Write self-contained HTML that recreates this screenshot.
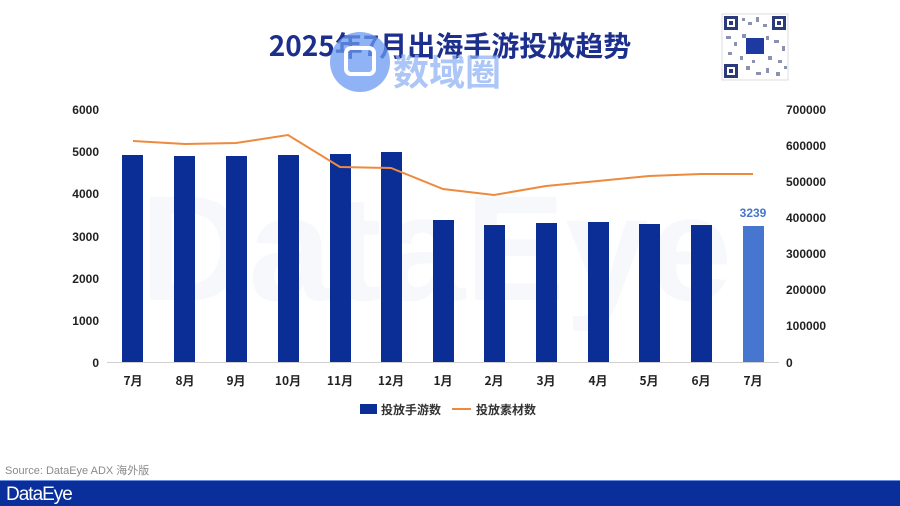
<!DOCTYPE html>
<html><head><meta charset="utf-8"><style>
html,body{margin:0;padding:0;background:#fff;}
svg{display:block;font-family:"Liberation Sans","Noto Sans CJK SC",sans-serif;}
</style></head><body>
<svg width="900" height="506" viewBox="0 0 900 506" xmlns="http://www.w3.org/2000/svg">
<rect width="900" height="506" fill="#fff"/>
<text x="140" y="300" font-size="150" font-weight="700" fill="#f6f8fc">DataEye</text>
<text x="450" y="56" text-anchor="middle" font-size="28" font-weight="700" fill="#1c2f8c" font-family="'Noto Sans CJK SC',sans-serif">2025年7月出海手游投放趋势</text>
<circle cx="360" cy="62" r="30" fill="#6a9af0" opacity="0.75"/>
<rect x="346" y="48" width="28" height="26" rx="5" fill="none" stroke="#fff" stroke-width="4"/>
<text x="393" y="85" font-size="36" font-weight="700" fill="#8fb3f5" opacity="0.75" font-family="'Noto Sans CJK SC',sans-serif">数域圈</text>
<rect x="722" y="14" width="66" height="66" fill="#fff" stroke="#ddd"/>
<g fill="#2b3a7a">
<rect x="724" y="16" width="14" height="14"/><rect x="772" y="16" width="14" height="14"/><rect x="724" y="64" width="14" height="14"/>
</g>
<g fill="#fff"><rect x="727" y="19" width="8" height="8"/><rect x="775" y="19" width="8" height="8"/><rect x="727" y="67" width="8" height="8"/></g>
<g fill="#2b3a7a"><rect x="729" y="21" width="4" height="4"/><rect x="777" y="21" width="4" height="4"/><rect x="729" y="69" width="4" height="4"/></g>
<g fill="#5a6490" opacity="0.7">
<rect x="742" y="18" width="3" height="3"/><rect x="748" y="22" width="4" height="3"/><rect x="756" y="17" width="3" height="5"/><rect x="763" y="24" width="4" height="3"/>
<rect x="726" y="36" width="5" height="3"/><rect x="734" y="42" width="3" height="4"/><rect x="742" y="34" width="4" height="4"/><rect x="766" y="36" width="3" height="4"/>
<rect x="774" y="40" width="5" height="3"/><rect x="782" y="46" width="3" height="5"/><rect x="728" y="52" width="4" height="3"/><rect x="740" y="56" width="3" height="4"/>
<rect x="768" y="56" width="4" height="4"/><rect x="778" y="60" width="4" height="3"/><rect x="746" y="66" width="4" height="4"/><rect x="756" y="72" width="5" height="3"/>
<rect x="766" y="68" width="3" height="5"/><rect x="776" y="72" width="4" height="4"/><rect x="784" y="66" width="3" height="3"/><rect x="752" y="60" width="3" height="3"/>
</g>
<rect x="746" y="38" width="18" height="16" fill="#1e3aa0"/>
<g font-size="12" font-weight="700" fill="#222" text-anchor="end">
<text x="99" y="114">6000</text><text x="99" y="156">5000</text><text x="99" y="198">4000</text>
<text x="99" y="241">3000</text><text x="99" y="283">2000</text><text x="99" y="325">1000</text><text x="99" y="367">0</text>
</g>
<g font-size="12" font-weight="700" fill="#222" text-anchor="start">
<text x="786" y="114">700000</text><text x="786" y="150">600000</text><text x="786" y="186">500000</text>
<text x="786" y="222">400000</text><text x="786" y="258">300000</text><text x="786" y="294">200000</text>
<text x="786" y="330">100000</text><text x="786" y="367">0</text>
</g>
<line x1="107" y1="362.5" x2="779" y2="362.5" stroke="#d0d0d0"/>
<g fill="#0a2d96">
<rect x="122" y="155" width="21" height="207"/>
<rect x="174" y="156" width="21" height="206"/>
<rect x="226" y="156" width="21" height="206"/>
<rect x="278" y="155" width="21" height="207"/>
<rect x="330" y="154" width="21" height="208"/>
<rect x="381" y="152" width="21" height="210"/>
<rect x="433" y="220" width="21" height="142"/>
<rect x="484" y="225" width="21" height="137"/>
<rect x="536" y="223" width="21" height="139"/>
<rect x="588" y="222" width="21" height="140"/>
<rect x="639" y="224" width="21" height="138"/>
<rect x="691" y="225" width="21" height="137"/>
</g>
<rect x="743" y="226" width="21" height="136" fill="#4676cf"/>
<text x="753" y="217" text-anchor="middle" font-size="12" font-weight="700" fill="#4676cf">3239</text>
<polyline fill="none" stroke="#ee8a3e" stroke-width="2" points="133,141 185,144 236,143 288,135 340,167 391,168 443,189 494,195 546,186 598,181 649,176 701,174 753,174"/>
<g font-size="12" font-weight="700" fill="#222" text-anchor="middle" font-family="'Noto Sans CJK SC',sans-serif">
<text x="133" y="385">7月</text><text x="185" y="385">8月</text><text x="236" y="385">9月</text><text x="288" y="385">10月</text>
<text x="340" y="385">11月</text><text x="391" y="385">12月</text><text x="443" y="385">1月</text><text x="494" y="385">2月</text>
<text x="546" y="385">3月</text><text x="598" y="385">4月</text><text x="649" y="385">5月</text><text x="701" y="385">6月</text><text x="753" y="385">7月</text>
</g>
<rect x="360" y="404" width="17" height="10" fill="#0a2d96"/>
<text x="381" y="414" font-size="12" font-weight="700" fill="#333" font-family="'Noto Sans CJK SC',sans-serif">投放手游数</text>
<line x1="452" y1="409" x2="471" y2="409" stroke="#ee8a3e" stroke-width="2"/>
<text x="476" y="414" font-size="12" font-weight="700" fill="#333" font-family="'Noto Sans CJK SC',sans-serif">投放素材数</text>
<text x="5" y="474" font-size="11" fill="#8a8a8a">Source: DataEye ADX 海外版</text>
<rect x="0" y="480" width="900" height="26" fill="#0a2f9a"/>
<line x1="0" y1="480.5" x2="900" y2="480.5" stroke="#6a8de0"/>
<text x="6" y="500" font-size="19" fill="#fff" font-weight="400" letter-spacing="-1">DataEye</text>
</svg>
</body></html>
